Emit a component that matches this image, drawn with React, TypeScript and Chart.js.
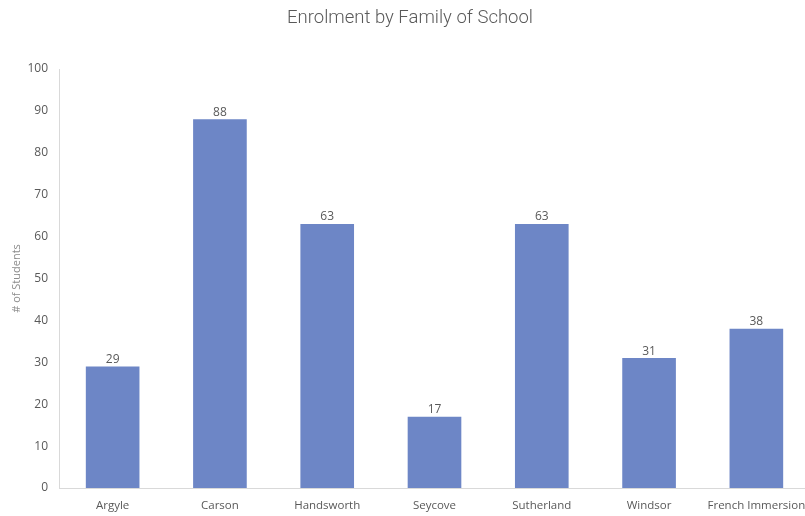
import React, { useEffect, useRef } from "react";
import { Chart, registerables } from "chart.js";

Chart.register(...registerables);

const categories = ["Argyle", "Carson", "Handsworth", "Seycove", "Sutherland", "Windsor", "French Immersion"];
const students = [29, 88, 63, 17, 63, 31, 38];
const chartTitle = "Enrolment by Family of School";
const yAxisTitle = "# of Students";

const valueLabels = {
  id: "valueLabels",
  afterDatasetsDraw(chart: any) {
    const ctx = chart.ctx;
    const meta = chart.getDatasetMeta(0);
    ctx.save();
    ctx.font = "12px 'Open Sans'";
    ctx.fillStyle = "#595959";
    ctx.textAlign = "center";
    ctx.textBaseline = "bottom";
    meta.data.forEach((bar: any, i: number) => {
      ctx.fillText(String(chart.data.datasets[0].data[i]), bar.x, bar.y - 1);
    });
    ctx.restore();
  },
};

export default function App() {
  const ref = useRef<HTMLCanvasElement>(null);
  useEffect(() => {
    const chart = new Chart(ref.current!, {
      type: "bar",
      data: {
        labels: categories,
        datasets: [
          {
            data: students,
            backgroundColor: "#6d86c6",
            categoryPercentage: 1,
            barPercentage: 0.5,
          },
        ],
      },
      options: {
        animation: false,
        responsive: false,
        maintainAspectRatio: false,
        layout: { padding: { left: 10, right: 0, top: 0, bottom: 0 } },
        plugins: {
          legend: { display: false },
          tooltip: { enabled: false },
          title: {
            display: true,
            text: chartTitle,
            color: "#595959",
            font: { family: "Roboto", size: 18.5, weight: "300", lineHeight: 1.2 },
            padding: { top: 7, bottom: 39.8 },
          },
        },
        scales: {
          x: {
            grid: { display: false, drawTicks: false },
            border: { display: true, color: "#d9d9d9" },
            ticks: { color: "#595959", font: { family: "Open Sans", size: 11.5 }, padding: 11, maxRotation: 0, autoSkip: false },
            afterFit(scale: any) {
              scale.height = 28;
              scale.paddingLeft = 0;
              scale.paddingRight = 0;
            },
          },
          y: {
            min: 0,
            max: 100,
            ticks: { stepSize: 10, color: "#595959", font: { family: "Open Sans", size: 12 }, padding: 11 },
            grid: { display: false, drawTicks: false },
            border: { display: true, color: "#d9d9d9" },
            title: {
              display: true,
              text: yAxisTitle,
              color: "#8c8c8c",
              font: { family: "Open Sans", size: 11 },
              padding: { top: 0, bottom: 0 },
            },
            afterFit(scale: any) {
              scale.width = 49;
            },
          },
        },
      },
      plugins: [valueLabels],
    });
    return () => chart.destroy();
  }, []);
  return (
    <div style={{ position: "fixed", left: 0, top: 0, width: 805, height: 516, background: "#fff", overflow: "hidden" }}>
      <canvas ref={ref} width={810} height={516} style={{ display: "block" }} />
    </div>
  );
}
